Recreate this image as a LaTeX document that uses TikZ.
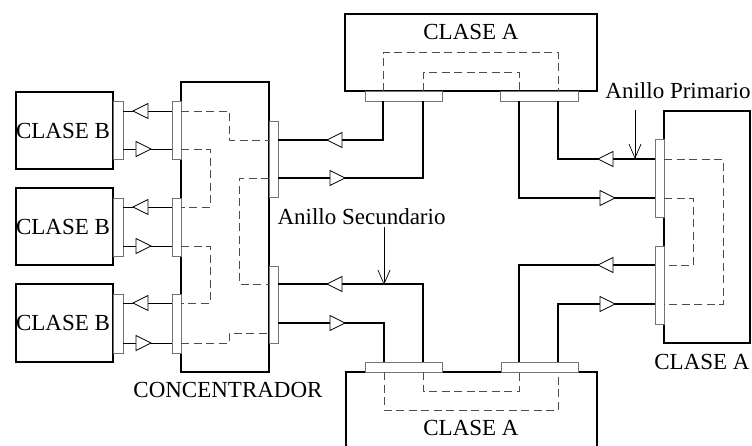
\documentclass[tikz,border=0pt]{standalone}
\usepackage{fontspec}
\setmainfont{Liberation Serif}
\usetikzlibrary{arrows.meta}
\begin{document}
\begin{tikzpicture}[x=1pt,y=-1pt,
  box/.style={draw,line width=1.8pt,fill=white,inner sep=0pt},
  port/.style={draw=black!55,line width=0.8pt,fill=white,inner sep=0pt},
  ring/.style={line width=1.6pt},
  bline/.style={line width=0.8pt},
  dsh/.style={draw=black!70,line width=0.9pt,dash pattern=on 8pt off 4.5pt},
  lbl/.style={font=\fontsize{23}{26}\selectfont,inner sep=0pt},
  tri/.style={draw,fill=white,line width=0.8pt,line join=miter},
  ann/.style={line width=0.7pt,-{Straight Barb[length=14pt,width=12pt,line width=0.7pt]}},
  tl/.pic={\draw[tri] (0,0) -- (15,-7.5) -- (15,7.5) -- cycle;},
  tr/.pic={\draw[tri] (0,-7.5) -- (15,0) -- (0,7.5) -- cycle;}]
\useasboundingbox (0,0) rectangle (752,445);

% boxes
\node[box,minimum width=252pt,minimum height=77pt] (ta) at (471,52.5) {};
\node[box,minimum width=251pt,minimum height=80pt] (ba) at (471.5,412) {};
\node[box,minimum width=86pt,minimum height=232pt] (ra) at (707,227) {};
\node[box,minimum width=88pt,minimum height=290pt] (co) at (225,227) {};
\node[box,minimum width=97pt,minimum height=77pt] (b1) at (64.5,130.5) {};
\node[box,minimum width=97pt,minimum height=77pt] (b2) at (64.5,226.5) {};
\node[box,minimum width=97pt,minimum height=78pt] (b3) at (64.5,323) {};

% ports
\node[port,minimum width=77pt,minimum height=10pt] (ta1) at (403.5,96) {};
\node[port,minimum width=78pt,minimum height=10pt] (ta2) at (539,96) {};
\node[port,minimum width=77pt,minimum height=10pt] (ba1) at (403.5,367) {};
\node[port,minimum width=77pt,minimum height=10pt] (ba2) at (539.5,367) {};
\node[port,minimum width=9pt,minimum height=78pt] (ra1) at (659.5,178) {};
\node[port,minimum width=9pt,minimum height=78pt] (ra2) at (659.5,285) {};
\node[port,minimum width=9pt,minimum height=76pt] (cr1) at (273.5,159) {};
\node[port,minimum width=9pt,minimum height=77pt] (cr2) at (273.5,304.5) {};
\node[port,minimum width=9pt,minimum height=58pt] (cl1) at (176.5,130) {};
\node[port,minimum width=9pt,minimum height=58pt] (cl2) at (176.5,227) {};
\node[port,minimum width=9pt,minimum height=59pt] (cl3) at (176.5,323.5) {};
\node[port,minimum width=10pt,minimum height=58pt] (bp1) at (118,130) {};
\node[port,minimum width=10pt,minimum height=58pt] (bp2) at (118,227) {};
\node[port,minimum width=10pt,minimum height=59pt] (bp3) at (118,323.5) {};

% connector end points
\coordinate (t1) at (383,101);
\coordinate (t2) at (423,101);
\coordinate (t3) at (519,101);
\coordinate (t4) at (558,101);
\coordinate (u1) at (384,362);
\coordinate (u2) at (423,362);
\coordinate (u3) at (519,362);
\coordinate (u4) at (558,362);
\coordinate (r1) at (655,159);
\coordinate (r2) at (655,198);
\coordinate (r3) at (655,265);
\coordinate (r4) at (655,304);
\coordinate (c1) at (278,140);
\coordinate (c2) at (278,178);
\coordinate (c3) at (278,284);
\coordinate (c4) at (278,323);

% ring connectors
\draw[ring] (t1) |- (c1);
\draw[ring] (t2) |- (c2);
\draw[ring] (t3) |- (r2);
\draw[ring] (t4) |- (r1);
\draw[ring] (u3) |- (r3);
\draw[ring] (u4) |- (r4);
\draw[ring] (u2) |- (c3);
\draw[ring] (u1) |- (c4);

% B connectors
\foreach \y in {111,149,207,246,303,343}{
  \coordinate (bl\y) at (123,\y);
  \coordinate (cl\y) at (172,\y);
  \draw[bline] (bl\y) -- (cl\y);
}

% triangles
\pic at (327,140) {tl};
\pic at (330,178) {tr};
\pic at (327,284) {tl};
\pic at (330,323) {tr};
\pic at (598,159) {tl};
\pic at (600,198) {tr};
\pic at (598,265) {tl};
\pic at (600,304) {tr};
\foreach \y in {111,207,303}{\pic at (133,\y) {tl};}
\foreach \y in {149,246,343}{\pic at (136,\y) {tr};}

% dashed internal paths
\draw[dsh] (383,91) -- (383,52) -- (558,52) -- (558,91);
\draw[dsh] (423,91) -- (423,72) -- (519,72) -- (519,91);
\draw[dsh] (423,372) -- (423,391) -- (519,391) -- (519,372);
\draw[dsh] (384,372) -- (384,410) -- (558,410) -- (558,372);
\draw[dsh] (664,159) -- (723,159) -- (723,304) -- (664,304);
\draw[dsh] (664,198) -- (693,198) -- (693,265) -- (664,265);
\draw[dsh] (181,111) -- (229,111) -- (229,140) -- (269,140);
\draw[dsh] (181,149) -- (210,149) -- (210,207) -- (181,207);
\draw[dsh] (269,178) -- (239,178) -- (239,284) -- (269,284);
\draw[dsh] (181,246) -- (210,246) -- (210,303) -- (181,303);
\draw[dsh] (181,343) -- (229,343) -- (229,333) -- (269,333);

% labels
\node[lbl] (lta) at (471,32) {CLASE A};
\node[lbl] (lba) at (471,428) {CLASE A};
\node[lbl] (lra) at (702,362) {CLASE A};
\node[lbl] (lco) at (228,390) {CONCENTRADOR};
\node[lbl] (lb1) at (63,130.5) {CLASE B};
\node[lbl] (lb2) at (63,226.5) {CLASE B};
\node[lbl] (lb3) at (63,323) {CLASE B};

% annotations
\node[lbl] (ap) at (678,91) {Anillo Primario};
\node[lbl] (as) at (361.5,217) {Anillo Secundario};
\coordinate (ap1) at (635,110);
\coordinate (ap2) at (635,159);
\coordinate (as1) at (384,227);
\coordinate (as2) at (384,285);
\draw[ann] (ap1) -- (ap2);
\draw[ann] (as1) -- (as2);
\end{tikzpicture}
\end{document}
